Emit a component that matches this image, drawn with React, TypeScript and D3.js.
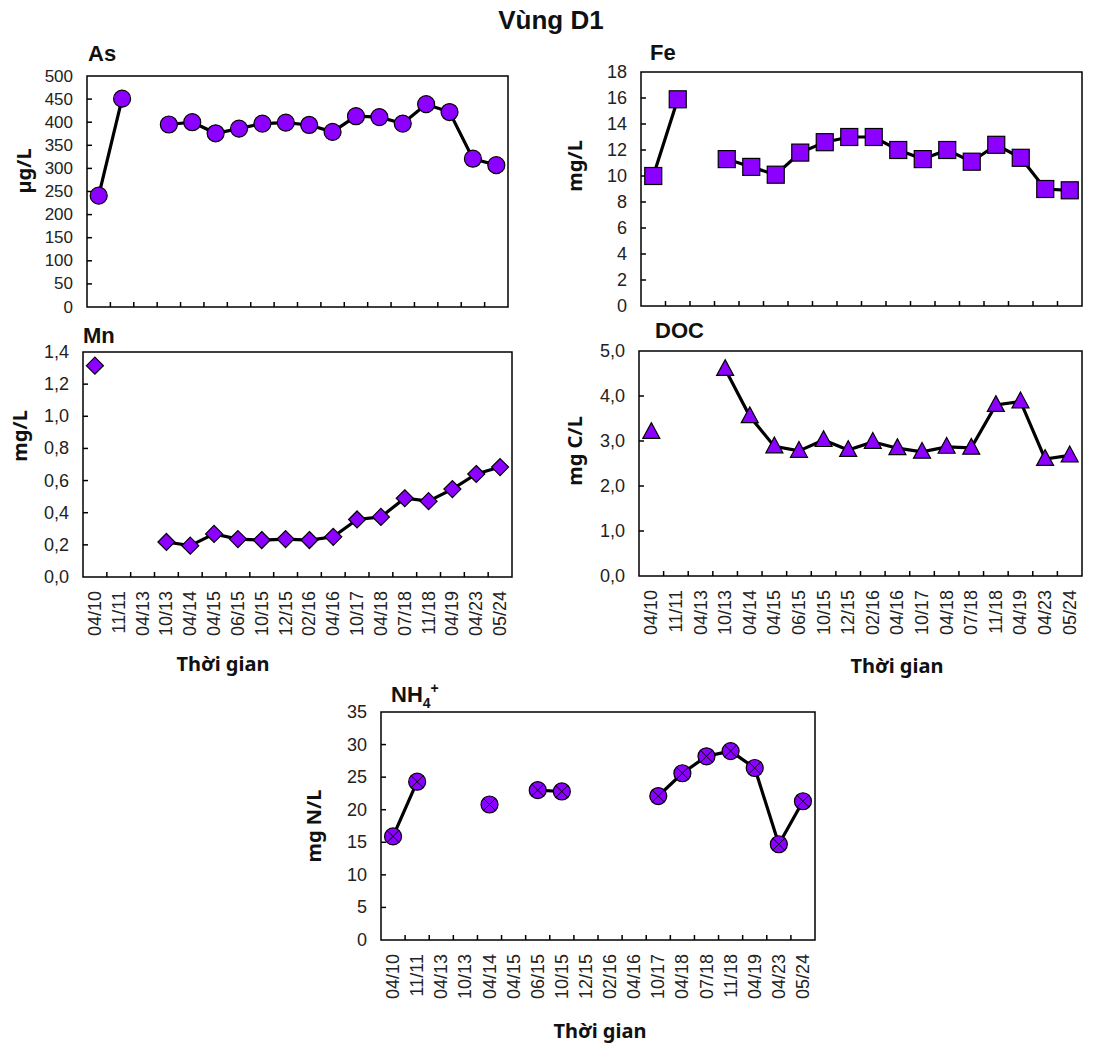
import React from 'react'
import * as d3 from 'd3'

// sampling dates (MM/YY)
const dates = [
  '04/10', '11/11', '04/13', '10/13', '04/14', '04/15', '06/15', '10/15', '12/15',
  '02/16', '04/16', '10/17', '04/18', '07/18', '11/18', '04/19', '04/23', '05/24',
]

// null = no sample
const asValues = [241, 451, null, 395, 400, 376, 386, 397, 399, 394, 379, 413, 411, 397, 439, 422, 321, 307]
const feValues = [10.0, 15.9, null, 11.3, 10.7, 10.1, 11.8, 12.6, 13.0, 13.0, 12.0, 11.3, 12.0, 11.1, 12.4, 11.4, 9.0, 8.9]
const mnValues = [1.315, null, null, 0.218, 0.195, 0.268, 0.236, 0.23, 0.236, 0.23, 0.25, 0.358, 0.374, 0.49, 0.472, 0.547, 0.641, 0.684]
const docValues = [3.2, null, null, 4.6, 3.55, 2.88, 2.78, 3.02, 2.8, 2.98, 2.84, 2.76, 2.87, 2.85, 3.8, 3.88, 2.6, 2.68]
const nh4Values = [15.9, 24.3, null, null, 20.8, null, 23.0, 22.8, null, null, null, 22.1, 25.6, 28.2, 29.0, 26.4, 14.7, 21.3]

const asTicks = [0, 50, 100, 150, 200, 250, 300, 350, 400, 450, 500]
const feTicks = [0, 2, 4, 6, 8, 10, 12, 14, 16, 18]
const mnTicks = [0, 0.2, 0.4, 0.6, 0.8, 1.0, 1.2, 1.4]
const docTicks = [0, 1, 2, 3, 4, 5]
const nh4Ticks = [0, 5, 10, 15, 20, 25, 30, 35]

const PURPLE = '#8c00ff'
const FONT = '"Liberation Sans", Arial, sans-serif'
const LABEL_FONT = '"Noto Sans", "Liberation Sans", sans-serif'

const comma1 = (d) => d3.format('.1f')(d).replace('.', ',')

const panels = [
  {
    key: 'as', title: 'As', unit: 'µg/L', values: asValues, ticks: asTicks, fmt: (d) => String(d),
    marker: 'circle', x0: 87, x1: 508, y0: 76, y1: 307, tickSize: 17,
    titleX: 88, titleY: 61, unitX: 31, unitY: 171, showX: false,
  },
  {
    key: 'fe', title: 'Fe', unit: 'mg/L', values: feValues, ticks: feTicks, fmt: (d) => String(d),
    marker: 'square', x0: 641, x1: 1082, y0: 72, y1: 306, tickSize: 18,
    titleX: 650, titleY: 60, unitX: 582, unitY: 166, showX: false,
  },
  {
    key: 'mn', title: 'Mn', unit: 'mg/L', values: mnValues, ticks: mnTicks, fmt: comma1,
    marker: 'diamond', x0: 83, x1: 512, y0: 352, y1: 577, tickSize: 18,
    titleX: 83, titleY: 343, unitX: 27, unitY: 436, showX: true, xLabelX: 223, xLabelY: 671,
  },
  {
    key: 'doc', title: 'DOC', unit: 'mg C/L', values: docValues, ticks: docTicks, fmt: comma1,
    marker: 'triangle', x0: 639, x1: 1082, y0: 351, y1: 576, tickSize: 18,
    titleX: 655, titleY: 338, unitX: 582, unitY: 451, showX: true, xLabelX: 897, xLabelY: 673,
  },
  {
    key: 'nh4', title: 'NH', unit: 'mg N/L', values: nh4Values, ticks: nh4Ticks, fmt: (d) => String(d),
    marker: 'xcircle', x0: 381, x1: 815, y0: 712, y1: 940, tickSize: 18,
    titleX: 391, titleY: 702, unitX: 321, unitY: 826, showX: true, xLabelX: 600, xLabelY: 1038,
  },
]

const Marker = ({ type, x, y }) => {
  const st = { fill: PURPLE, stroke: '#000', strokeWidth: 1.2 }
  if (type === 'circle') return <circle cx={x} cy={y} r={8.5} {...st} />
  if (type === 'square') return <rect x={x - 8.5} y={y - 8.5} width={17} height={17} {...st} />
  if (type === 'diamond') {
    const s = 8.5
    return <path d={`M${x},${y - s}L${x + s},${y}L${x},${y + s}L${x - s},${y}Z`} {...st} />
  }
  if (type === 'triangle') {
    const s = 8.5
    return <path d={`M${x},${y - s * 1.1}L${x + s},${y + s * 0.75}L${x - s},${y + s * 0.75}Z`} {...st} />
  }
  // circle with x
  const r = 8.5
  const k = r * 0.707
  return (
    <g>
      <circle cx={x} cy={y} r={r} {...st} />
      <path d={`M${x - k},${y - k}L${x + k},${y + k}M${x + k},${y - k}L${x - k},${y + k}`} stroke="#000" strokeWidth={1} />
    </g>
  )
}

const Panel = ({ p }) => {
  const xScale = d3.scaleBand().domain(dates).range([p.x0, p.x1]).padding(0)
  const yScale = d3
    .scaleLinear()
    .domain([0, p.ticks[p.ticks.length - 1]])
    .range([p.y1, p.y0])
  const bw = xScale.bandwidth()
  const cx = (i) => xScale(dates[i]) + bw / 2

  const line = d3
    .line()
    .defined((d) => d != null)
    .x((d, i) => cx(i))
    .y((d) => yScale(d))

  return (
    <g>
      {/* frame */}
      <rect x={p.x0} y={p.y0} width={p.x1 - p.x0} height={p.y1 - p.y0} fill="none" stroke="#000" strokeWidth={1.5} />

      {/* y ticks */}
      {p.ticks.map((t) => (
        <g key={t}>
          {t > 0 && t < p.ticks[p.ticks.length - 1] && (
            <line x1={p.x0} x2={p.x0 + 5} y1={yScale(t)} y2={yScale(t)} stroke="#000" strokeWidth={1.5} />
          )}
          <text
            x={p.x0 - 14}
            y={yScale(t)}
            textAnchor="end"
            dominantBaseline="central"
            fontFamily={FONT}
            fontSize={p.tickSize}
            fill="#222"
          >
            {p.fmt(t)}
          </text>
        </g>
      ))}

      {/* x ticks at category boundaries */}
      {dates.slice(1).map((d) => (
        <line key={d} x1={xScale(d)} x2={xScale(d)} y1={p.y1} y2={p.y1 - 5} stroke="#000" strokeWidth={1.5} />
      ))}

      {p.showX &&
        dates.map((d, i) => (
          <text
            key={d}
            transform={`translate(${cx(i)}, ${p.y1 + 14}) rotate(-90)`}
            textAnchor="end"
            dominantBaseline="central"
            fontFamily={FONT}
            fontSize={18}
            fill="#222"
          >
            {d}
          </text>
        ))}

      {/* series */}
      <path d={line(p.values)} fill="none" stroke="#000" strokeWidth={3.2} />
      {p.values.map((v, i) => (v == null ? null : <Marker key={i} type={p.marker} x={cx(i)} y={yScale(v)} />))}

      {/* titles */}
      <text x={p.titleX} y={p.titleY} fontFamily={FONT} fontWeight="bold" fontSize={22} fill="#111">
        {p.title}
        {p.key === 'nh4' && (
          <>
            <tspan fontSize={14} dy={6}>4</tspan>
            <tspan fontSize={14} dy={-15}>+</tspan>
          </>
        )}
      </text>
      <text
        transform={`translate(${p.unitX}, ${p.unitY}) rotate(-90)`}
        textAnchor="middle"
        fontFamily={LABEL_FONT}
        fontWeight="bold"
        fontSize={20}
        fill="#111"
      >
        {p.unit}
      </text>
      {p.showX && (
        <text x={p.xLabelX} y={p.xLabelY} textAnchor="middle" fontFamily={LABEL_FONT} fontWeight="bold" fontSize={20} fill="#111">
          Thời gian
        </text>
      )}
    </g>
  )
}

const App = () => {
  return (
    <svg
      width={1104}
      height={1044}
      style={{ position: 'absolute', left: 0, top: 0, background: '#fff' }}
    >
      <text x={551} y={29} textAnchor="middle" fontFamily={FONT} fontWeight="bold" fontSize={26} fill="#111">
        Vùng D1
      </text>
      {panels.map((p) => (
        <Panel key={p.key} p={p} />
      ))}
    </svg>
  )
}

export default App
